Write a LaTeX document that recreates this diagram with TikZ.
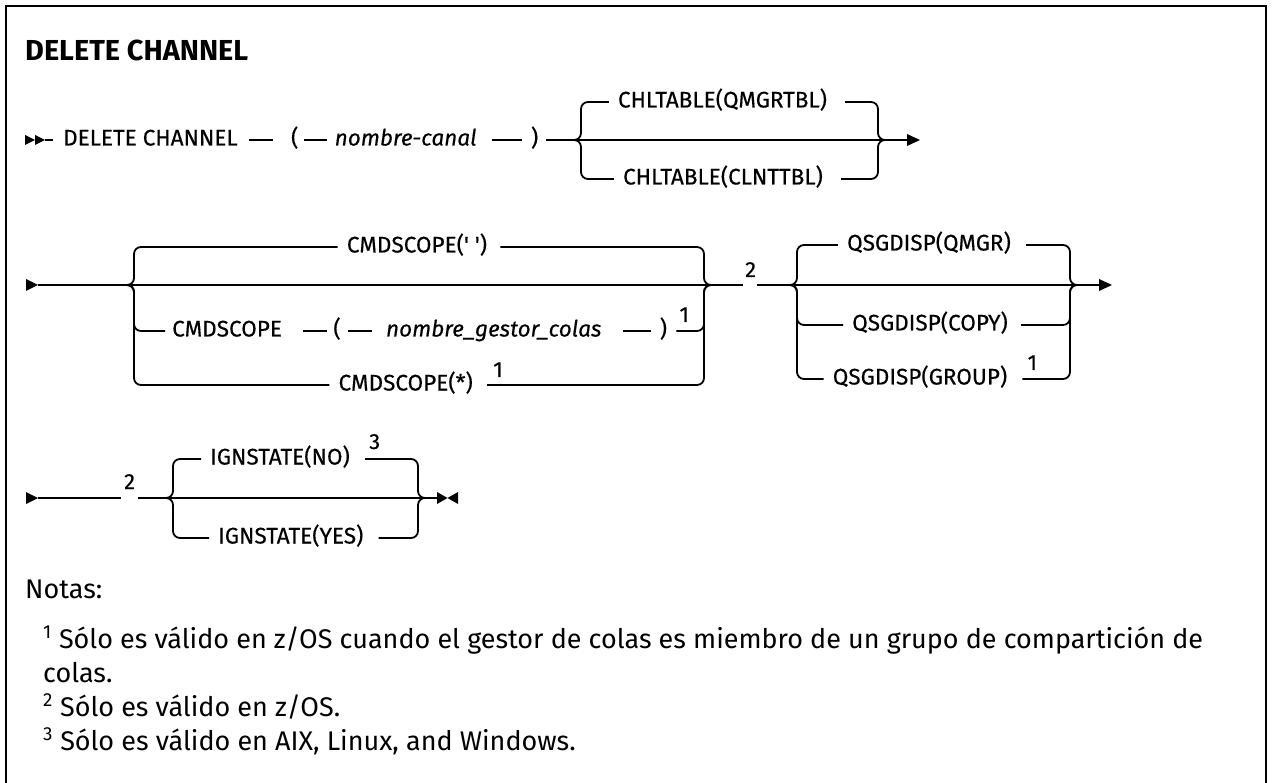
\documentclass[tikz,border=0pt]{standalone}
\usepackage{fontspec}
\setmainfont{Fira Sans}[Ligatures=TeXOff]
\newfontfamily\dgfont{Fira Sans}[Ligatures=TeXOff, FakeBold=0.35]
\newsavebox\measbox
\begin{document}
\sbox\measbox{\fontsize{10}{12}\selectfont\dgfont CHLTABLE(QMGRTBL)}%
\pgfmathsetmacro\dfs{10*209/\the\wd\measbox}%
\sbox\measbox{\fontsize{10}{12}\selectfont\bfseries DELETE CHANNEL}%
\pgfmathsetmacro\tfs{10*223/\the\wd\measbox}%
\sbox\measbox{\fontsize{10}{12}\selectfont Sólo es válido en z/OS cuando el gestor de colas es miembro de}%
\pgfmathsetmacro\nfs{10*782/\the\wd\measbox}%
\pgfmathsetmacro\sfs{0.97*\dfs}%
\begin{tikzpicture}[x=1pt,y=-1pt,
  ln/.style={line width=1.8pt},
  rc/.style={rounded corners=7pt},
  lbl/.style={font=\fontsize{\dfs}{\dfs}\selectfont\dgfont, inner sep=0pt, text height=15pt, text depth=4pt},
  var/.style={lbl, font=\fontsize{\dfs}{\dfs}\selectfont\dgfont\itshape},
  sup/.style={font=\fontsize{\sfs}{\sfs}\selectfont\dgfont, inner sep=0pt, anchor=base west},
  note/.style={font=\fontsize{\nfs}{\nfs}\selectfont, inner sep=0pt, anchor=base west},
  tip/.style={fill=black}
]
\useasboundingbox (0,0) rectangle (1274,783);
\draw[line width=2.3pt] (6,783) -- (6,6) -- (1266,6) -- (1266,783);
\node[font=\fontsize{\tfs}{\tfs}\selectfont\bfseries, inner sep=0pt, anchor=base west] (title) at (25,61) {DELETE CHANNEL};

% ---------- row 1 ----------
\fill[tip] (25,135) -- (35,140) -- (25,145) -- cycle;
\fill[tip] (35,135) -- (45,140) -- (35,145) -- cycle;
\coordinate (r1S) at (45,140);
\node[lbl, anchor=west] (dc) at (63,140) {DELETE CHANNEL};
\node[lbl, anchor=west] (lp1) at ([xshift=53pt]dc.east) {(};
\node[var, anchor=west] (nc) at ([xshift=36pt]lp1.east) {nombre-canal};
\node[lbl, anchor=west] (rp1) at ([xshift=54pt]nc.east) {)};
\draw[ln] (r1S) -- ([xshift=-10pt]dc.west);
\draw[ln] ([xshift=11pt]dc.east) -- ([xshift=-18pt]lp1.west);
\draw[ln] ([xshift=5pt]lp1.east) -- ([xshift=-8pt]nc.west);
\draw[ln] ([xshift=15pt]nc.east) -- ([xshift=-9pt]rp1.west);
\coordinate (r1J) at (573,140);
\coordinate (r1V) at (581,140);
\coordinate (r1Vr) at (878,140);
\coordinate (r1Jr) at (885,140);
\coordinate (r1E) at (907,140);
\draw[ln] ([xshift=8pt]rp1.east) -- (r1J) -- (r1Jr) -- (r1E);
\fill[tip] (907,134) -- (920,140) -- (907,146) -- cycle;
\node[lbl] (qm) at (722.5,102) {CHLTABLE(QMGRTBL)};
\node[lbl] (cl) at (723,179) {CHLTABLE(CLNTTBL)};
\draw[ln,rc] (r1J) -| (qm.west -| r1V) -- ([xshift=-9pt]qm.west);
\draw[ln,rc] ([xshift=18pt]qm.east) -- (qm.east -| r1Vr) |- (r1Jr);
\draw[ln,rc] (r1J) -| (cl.west -| r1V) -- ([xshift=-9pt]cl.west);
\draw[ln,rc] ([xshift=18pt]cl.east) -- (cl.east -| r1Vr) |- (r1Jr);

% ---------- row 2 ----------
\fill[tip] (26,279) -- (38,285) -- (26,291) -- cycle;
\coordinate (r2S) at (38,285);
\coordinate (r2J) at (127,285);
\coordinate (r2V) at (134,285);
\coordinate (r2Vr) at (704,285);
\coordinate (r2Jr) at (711,285);
\coordinate (g2a) at (743,285);
\coordinate (g2b) at (757,285);
\coordinate (qJ) at (790,285);
\coordinate (qV) at (797,285);
\coordinate (qVr) at (1070,285);
\coordinate (qJr) at (1077,285);
\coordinate (r2E) at (1099,285);
\draw[ln] (r2S) -- (r2J) -- (r2Jr) -- (g2a);
\draw[ln] (g2b) -- (qJ) -- (qJr) -- (r2E);
\fill[tip] (1099,279) -- (1112,285) -- (1099,291) -- cycle;
\node[sup] (n2a) at (745,277) {2};

\node[lbl] (cs1) at (417,247) {CMDSCOPE(' ')};
\draw[ln,rc] (r2J) -| (cs1.west -| r2V) -- ([xshift=-9pt]cs1.west);
\draw[ln,rc] ([xshift=13pt]cs1.east) -- (cs1.east -| r2Vr) |- (r2Jr);

\node[lbl, anchor=west] (cs2) at (172,331) {CMDSCOPE};
\node[lbl, anchor=west] (lp2) at ([xshift=51pt]cs2.east) {(};
\node[var, anchor=west] (ngc) at ([xshift=45pt]lp2.east) {nombre\_gestor\_colas};
\node[lbl, anchor=west] (rp2) at ([xshift=58pt]ngc.east) {)};
\draw[ln,rc] (r2J) -| (cs2.west -| r2V) -- ([xshift=-7pt]cs2.west);
\draw[ln] ([xshift=21pt]cs2.east) -- ([xshift=-6pt]lp2.west);
\draw[ln] ([xshift=7pt]lp2.east) -- ([xshift=-14pt]ngc.west);
\draw[ln] ([xshift=21pt]ngc.east) -- ([xshift=-9pt]rp2.west);
\draw[ln,rc] ([xshift=9pt]rp2.east) -- (rp2.east -| r2Vr) |- (r2Jr);
\node[sup] (s2) at ([xshift=12pt,yshift=9pt]rp2.east) {1};

\node[lbl, anchor=east] (cs3) at (473,385) {CMDSCOPE(*)};
\draw[ln,rc] (r2J) -| (cs3.west -| r2V) -- ([xshift=-9pt]cs3.west);
\draw[ln,rc] ([xshift=14pt]cs3.east) -- (cs3.east -| r2Vr) |- (r2Jr);
\node[sup] (s3) at ([xshift=20pt,yshift=8pt]cs3.east) {1};

\node[lbl] (q1) at (929,245) {QSGDISP(QMGR)};
\node[lbl] (q2) at (930,325) {QSGDISP(COPY)};
\node[lbl] (q3) at (920,379) {QSGDISP(GROUP)};
\draw[ln,rc] (qJ) -| (q1.west -| qV) -- ([xshift=-9pt]q1.west);
\draw[ln,rc] ([xshift=15pt]q1.east) -- (q1.east -| qVr) |- (qJr);
\draw[ln,rc] (qJ) -| (q2.west -| qV) -- ([xshift=-9pt]q2.west);
\draw[ln,rc] ([xshift=13pt]q2.east) -- (q2.east -| qVr) |- (qJr);
\draw[ln,rc] (qJ) -| (q3.west -| qV) -- ([xshift=-9pt]q3.west);
\draw[ln,rc] ([xshift=15pt]q3.east) -- (q3.east -| qVr) |- (qJr);
\node[sup] (s4) at ([xshift=20pt,yshift=9pt]q3.east) {1};

% ---------- row 3 ----------
\fill[tip] (26,492) -- (38,498) -- (26,504) -- cycle;
\coordinate (r3S) at (38,498);
\coordinate (g3a) at (121,498);
\coordinate (g3b) at (138,498);
\coordinate (r3J) at (166,498);
\coordinate (r3V) at (173,498);
\coordinate (r3Vr) at (418,498);
\coordinate (r3Jr) at (425,498);
\coordinate (r3E) at (437,498);
\draw[ln] (r3S) -- (g3a);
\node[sup] (n2b) at (124,489) {2};
\draw[ln] (g3b) -- (r3J) -- (r3Jr) -- (r3E);
\fill[tip] (437,492) -- (447.5,498) -- (437,504) -- cycle;
\fill[tip] (458,492) -- (447.5,498) -- (458,504) -- cycle;
\node[lbl, anchor=west] (ig1) at (210,459) {IGNSTATE(NO)};
\node[lbl, anchor=west] (ig2) at (218,538) {IGNSTATE(YES)};
\draw[ln,rc] (r3J) -| (ig1.west -| r3V) -- ([xshift=-9pt]ig1.west);
\draw[ln,rc] ([xshift=15pt]ig1.east) -- (ig1.east -| r3Vr) |- (r3Jr);
\node[sup] (s5) at ([xshift=19pt,yshift=10pt]ig1.east) {3};
\draw[ln,rc] (r3J) -| (ig2.west -| r3V) -- ([xshift=-9pt]ig2.west);
\draw[ln,rc] ([xshift=15pt]ig2.east) -- (ig2.east -| r3Vr) |- (r3Jr);

% ---------- notes ----------
\node[note] (notas) at (25,598) {Notas:};
\node[note] (nt1) at (43,648) {\textsuperscript{1} Sólo es válido en z/OS cuando el gestor de colas es miembro de un grupo de compartición de};
\node[note] (nt1b) at (43,682) {colas.};
\node[note] (nt2) at (43,716) {\textsuperscript{2} Sólo es válido en z/OS.};
\node[note] (nt3) at (43,750) {\textsuperscript{3} Sólo es válido en AIX, Linux, and Windows.};
\end{tikzpicture}
\end{document}
